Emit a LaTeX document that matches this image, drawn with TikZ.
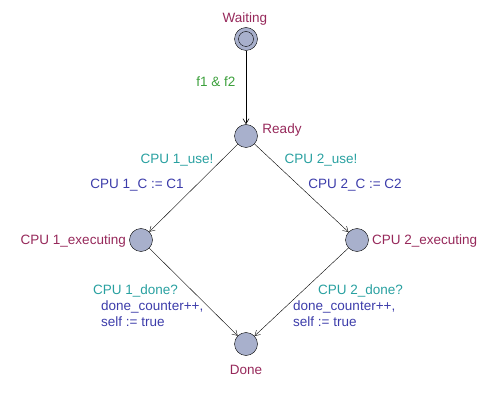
\documentclass[tikz,border=0pt]{standalone}
\usepackage{fontspec}
\setmainfont{Liberation Sans}
\usepackage{xcolor}
\usepackage{tikz}
\usetikzlibrary{arrows.meta}
\usetikzlibrary{positioning}
\definecolor{locname}{RGB}{150,40,90}
\definecolor{syncol}{RGB}{40,160,160}
\definecolor{assigncol}{RGB}{60,60,170}
\definecolor{guardcol}{RGB}{60,160,60}
\definecolor{locfill}{RGB}{168,176,204}
\tikzset{>={Straight Barb[length=5pt,width=6pt]}}
\tikzstyle{loc} = [circle, draw=black, fill=locfill, minimum size=23pt, inner sep=0pt]
\tikzstyle{lbl} = [inner sep=0pt, font=\fontsize{13.5}{15.5}\selectfont]

\begin{document}
\begin{tikzpicture}[x=1pt, y=1pt]
\useasboundingbox (0, 0) rectangle (498, 402);
\node [loc] (Waiting) at (246, 363) {};
\draw (Waiting.center) circle (7.5);
\node [loc] (Ready) at (246, 266) {};
\node [loc] (CPU1ex) at (141, 162) {};
\node [loc] (CPU2ex) at (357, 162) {};
\node [loc] (Done) at (246, 58) {};
\node [lbl, text=locname] (nWaiting) at (245, 383) {Waiting};
\node [lbl, text=locname] (nReady) at (282, 272) {Ready};
\node [lbl, text=locname, anchor=east] (nCPU1) at (126, 161) {CPU 1\_executing};
\node [lbl, text=locname, anchor=west] (nCPU2) at (372, 161) {CPU 2\_executing};
\node [lbl, text=locname] (nDone) at (246, 32) {Done};
\node [lbl, text=guardcol] (g1) at (216, 320) {f1 \& f2};
\node [lbl, text=syncol] (s1) at (177, 242) {CPU 1\_use!};
\node [lbl, text=assigncol] (a1) at (137, 217) {CPU 1\_C := C1};
\node [lbl, text=syncol] (s2) at (321, 242) {CPU 2\_use!};
\node [lbl, text=assigncol] (a2) at (355, 217) {CPU 2\_C := C2};
\node [lbl, text=syncol, anchor=west] (s3) at (93, 111) {CPU 1\_done?};
\node [lbl, text=assigncol, anchor=west, align=left] (a3) at (101, 88.5) {done\_counter++,\\self := true};
\node [lbl, text=syncol, anchor=west] (s4) at (318, 111) {CPU 2\_done?};
\node [lbl, text=assigncol, anchor=west, align=left] (a4) at (293, 88.5) {done\_counter++,\\self := true};
\draw [->, draw = black, semithick] (Waiting) to (Ready);
\draw [->, draw = black] (Ready) to (CPU1ex);
\draw [->, draw = black] (Ready) to (CPU2ex);
\draw [->, draw = black] (CPU1ex) to (Done);
\draw [->, draw = black] (CPU2ex) to (Done);
\end{tikzpicture}
\end{document}
